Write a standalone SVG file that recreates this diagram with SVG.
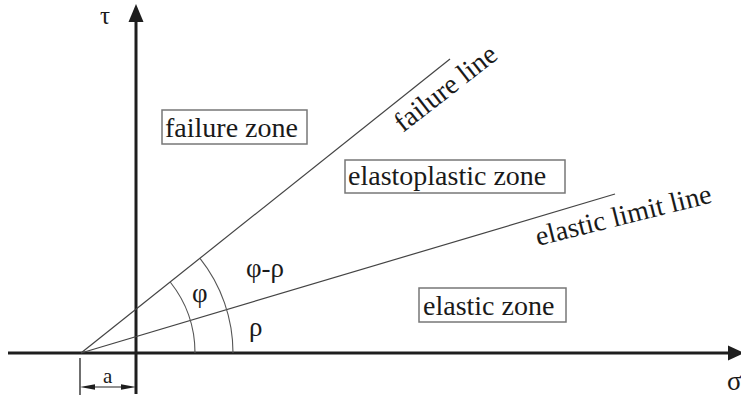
<svg xmlns="http://www.w3.org/2000/svg" width="741" height="396" viewBox="0 0 741 396" font-family="Liberation Serif, Times New Roman, serif">
<style>
.ax{stroke:#1e1e1e;stroke-width:3;fill:none}
.ln{stroke:#444;stroke-width:1.2;fill:none}
.arc{stroke:#555;stroke-width:1.1;fill:none}
.box{fill:#fff;stroke:#777;stroke-width:1.5}
.ah{fill:#1e1e1e}
</style>
<rect width="741" height="396" fill="#fff"/>
<g id="connectors">
  <g id="axes">
    <line class="ax" x1="8" y1="353" x2="730" y2="353"/>
    <polygon class="ah" points="744,353 728,345.5 728,360.5"/>
    <line class="ax" x1="136" y1="20" x2="136" y2="394"/>
    <polygon class="ah" points="136,4 128.5,22 143.5,22"/>
  </g>
  <line id="failure-line" class="ln" x1="81" y1="353" x2="450" y2="59"/>
  <line id="elastic-limit-line" class="ln" x1="81" y1="353" x2="615" y2="194"/>
  <path id="arc-phi" class="arc" d="M195,353 A114,114 0 0 0 170.2,282"/>
  <path id="arc-outer" class="arc" d="M233,353 A152,152 0 0 0 200,258.4"/>
  <g id="dimension-a">
    <line x1="80" y1="358" x2="80" y2="395" style="stroke:#222;stroke-width:1.3"/>
    <line x1="88" y1="387" x2="128" y2="387" style="stroke:#222;stroke-width:1.2"/>
    <polygon class="ah" points="80,387 95,384.3 95,389.7"/>
    <polygon class="ah" points="136,387 121,384.3 121,389.7"/>
  </g>
</g>
<g id="label-tau"><text font-family="Liberation Serif" font-size="25" fill="#1a1a1a" x="100" y="24">τ</text></g>
<g id="label-sigma"><text font-family="Liberation Serif" font-size="27" fill="#1a1a1a" x="727" y="390">σ</text></g>
<g id="label-a"><text font-family="Liberation Serif" font-size="21" fill="#1a1a1a" x="103" y="383">a</text></g>
<g id="label-phi"><text font-family="Liberation Serif" font-size="27" fill="#1a1a1a" x="192" y="302">φ</text></g>
<g id="label-rho"><text font-family="Liberation Serif" font-size="27" fill="#1a1a1a" x="249" y="336">ρ</text></g>
<g id="label-phi-rho"><text font-family="Liberation Serif" font-size="27" fill="#1a1a1a" x="246" y="277">φ-ρ</text></g>
<g id="label-failure-line"><text font-family="Liberation Serif" font-size="28" fill="#1a1a1a" transform="translate(403,133) rotate(-38)">failure line</text></g>
<g id="label-elastic-limit-line"><text font-family="Liberation Serif" font-size="28" fill="#1a1a1a" transform="translate(538,246) rotate(-14)">elastic limit line</text></g>
<g id="failure-zone">
  <rect class="box" x="162" y="110" width="145" height="34"/>
  <text font-family="Liberation Serif" font-size="28" fill="#1a1a1a" x="165" y="137">failure zone</text>
</g>
<g id="elastoplastic-zone">
  <rect class="box" x="345" y="160" width="220" height="33"/>
  <text font-family="Liberation Serif" font-size="28" fill="#1a1a1a" x="348" y="185">elastoplastic zone</text>
</g>
<g id="elastic-zone">
  <rect class="box" x="419" y="288" width="147" height="34"/>
  <text font-family="Liberation Serif" font-size="28" fill="#1a1a1a" x="423" y="315">elastic zone</text>
</g>
</svg>
